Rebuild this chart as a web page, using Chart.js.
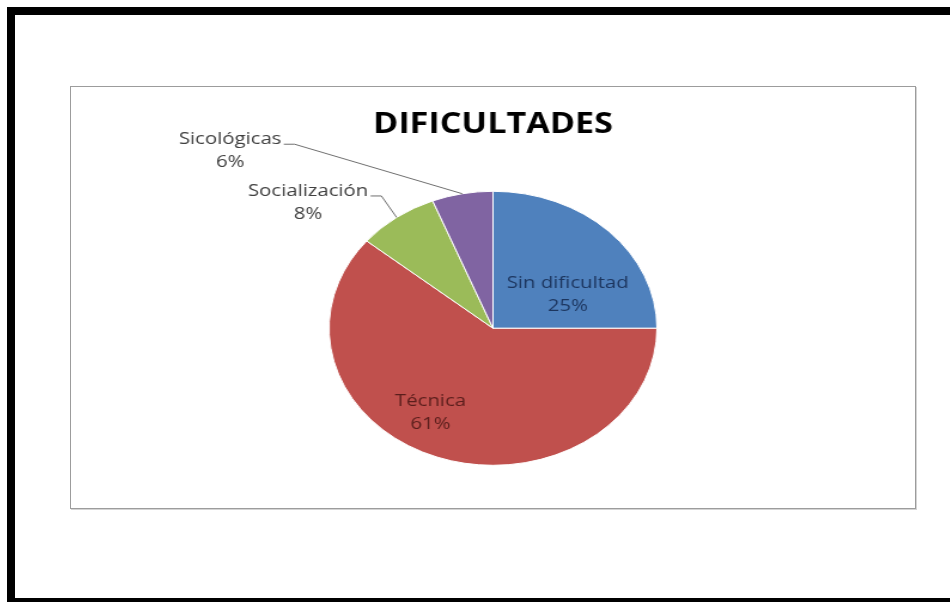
<!DOCTYPE html>
<html>
<head>
  <meta charset="utf-8">
  <title>Dificultades</title>
  <script src="https://cdn.jsdelivr.net/npm/chart.js"></script>
  <style>
    body { margin: 0; background: #fff; width: 950px; height: 602px; overflow: hidden; position: relative; }
    #frame { position: absolute; left: 7px; top: 7px; width: 980px; height: 583px; border-top: 8px solid #000; border-left: 8px solid #000; border-bottom: 8px solid #000; }
    #box { position: absolute; left: 70px; top: 86px; width: 846px; height: 423px; box-sizing: border-box; border: 1px solid #9c9c9c; box-shadow: 1px 1px 0 #d4d4d4; overflow: hidden; background: #fff; }
    #pieChart { position: absolute; left: -1px; top: -1px; transform: scaleX(1.1966); transform-origin: 0 0; }
  </style>
</head>
<body>
  <div id="frame"></div>
  <div id="box">
    <canvas id="pieChart" width="707" height="423"></canvas>
  </div>

  <script>
    // Survey results
    const categories = ['Sin dificultad', 'Técnica', 'Socialización', 'Sicológicas'];
    const percentages = [25, 61, 8, 6];
    const sliceColors = ['#4f81bd', '#c0504d', '#9bbb59', '#8064a2'];

    // label placement per slice: inside the slice or outside with a leader line
    const labelPlacement = [
      { outside: false, dx: 14, dy: 15, color: '#1c355e' },
      { outside: false, dx: -29, dy: 20, color: '#5a1e1c' },
      { outside: true, dx: -74, dy: -15, color: '#404040' },
      { outside: true, dx: -194, dy: -43, color: '#404040' }
    ];

    const sliceLabels = {
      id: 'sliceLabels',
      afterDatasetsDraw(chart) {
        const ctx = chart.ctx;
        const meta = chart.getDatasetMeta(0);
        const lineH = 23;
        ctx.save();
        ctx.font = '17px "Open Sans"';
        ctx.textAlign = 'center';
        ctx.textBaseline = 'middle';
        meta.data.forEach((arc, i) => {
          const p = arc.getProps(['x', 'y', 'startAngle', 'endAngle', 'outerRadius'], true);
          const mid = (p.startAngle + p.endAngle) / 2;
          const place = labelPlacement[i];
          const lines = [categories[i], percentages[i] + '%'];
          const rad = place.outside ? p.outerRadius : p.outerRadius / 2;
          const ax = p.x + Math.cos(mid) * rad;
          const ay = p.y + Math.sin(mid) * rad;
          const cx = ax + place.dx;
          const cy = ay + place.dy;

          if (place.outside) {
            const w = ctx.measureText(lines[0]).width;
            const endX = cx + w / 2 + 2;
            const lineY = cy - lineH / 2 + 5;
            ctx.strokeStyle = '#6f6f6f';
            ctx.lineWidth = 1;
            ctx.beginPath();
            ctx.moveTo(ax, ay);
            ctx.lineTo(endX + 9, lineY);
            ctx.lineTo(endX, lineY);
            ctx.stroke();
          }

          ctx.fillStyle = place.color;
          ctx.fillText(lines[0], cx, cy - lineH / 2);
          ctx.fillText(lines[1], cx, cy + lineH / 2);
        });
        ctx.restore();
      }
    };

    new Chart(document.getElementById('pieChart'), {
      type: 'pie',
      data: {
        labels: categories,
        datasets: [{
          data: percentages,
          backgroundColor: sliceColors,
          borderColor: '#ffffff',
          borderWidth: 1,
          radius: 137
        }]
      },
      options: {
        responsive: false,
        animation: false,
        layout: { padding: { bottom: 4.6 } },
        plugins: {
          legend: { display: false },
          tooltip: { enabled: false },
          title: {
            display: true,
            text: 'DIFICULTADES',
            color: '#000',
            font: { family: 'Open Sans', size: 28.5, weight: 'bold' },
            padding: { top: 22, bottom: 10 }
          }
        }
      },
      plugins: [sliceLabels]
    });
  </script>
</body>
</html>
